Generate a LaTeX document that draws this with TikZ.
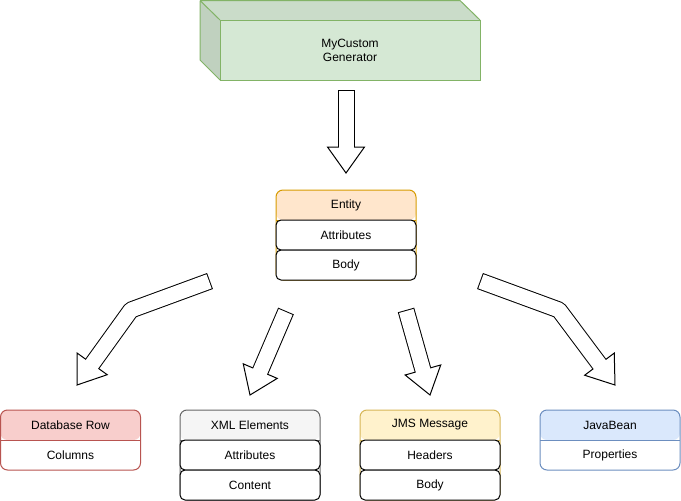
\documentclass[tikz,border=0pt]{standalone}
\usepackage{fontspec}
\setmainfont{Liberation Sans}
\usetikzlibrary{calc}
\definecolor{genfill}{HTML}{D5E8D4}
\definecolor{genline}{HTML}{82B366}
\definecolor{entfill}{HTML}{FFE6CC}
\definecolor{entline}{HTML}{D79B00}
\definecolor{dbfill}{HTML}{F8CECC}
\definecolor{dbline}{HTML}{B85450}
\definecolor{xmlfill}{HTML}{F5F5F5}
\definecolor{xmlline}{HTML}{666666}
\definecolor{jmsfill}{HTML}{FFF2CC}
\definecolor{jmsline}{HTML}{D6B656}
\definecolor{beanfill}{HTML}{DAE8FC}
\definecolor{beanline}{HTML}{6C8EBF}
\newcommand\fatarrow[3]{%
  \coordinate (hb) at ($(#3)!26pt!(#2)$);
  \draw[line width=17, line join=round] #1 -- (hb);
  \filldraw[fill=white, line join=miter] ($(hb)!18.5pt!90:(#3)$) -- (#3) -- ($(hb)!18.5pt!-90:(#3)$) -- cycle;
  \draw[white, line width=15, line join=round, shorten <=1pt] #1 -- ($(hb)!1.5pt!(#3)$);
}

\begin{document}
\begin{tikzpicture}[x=1pt, y=-1pt, line width=1pt, font=\fontsize{12}{14}\selectfont,
    gen/.style={draw=genline, fill=genfill, minimum width=260, minimum height=60, align=center},
    box/.style 2 args={draw=#2, fill=white, rounded corners=7, minimum width=140, inner sep=0,
      path picture={\fill[#1] (path picture bounding box.north west) rectangle ([yshift=-30pt]path picture bounding box.north east);
        \draw[#2] ([yshift=-30pt]path picture bounding box.north west) -- ([yshift=-30pt]path picture bounding box.north east);}},
    row/.style={draw, fill=white, rounded corners=5, minimum width=140, minimum height=30, inner sep=0},
    title/.style={minimum width=140, minimum height=30, inner sep=0}]
    \useasboundingbox (0,0) rectangle (681,501);
    \fill[genfill!95!black] (200,0.5) -- (460,0.5) -- (480,20) -- (220,20) -- cycle;
    \fill[genfill!90!black] (200,0.5) -- (220,20) -- (220,80) -- (200,60) -- cycle;
    \draw[genline] (200,0.5) -- (460,0.5) -- (480,20) (200,0.5) -- (220,20) (200,0.5) -- (200,60) -- (220,80);
    \node[gen] (gen) at (350,50) {MyCustom\\ Generator};
    \node[box={entfill}{entline}, minimum height=90] (entity) at (346,235) {};
    \node[title] (entityhd) at (346,205) {Entity};
    \node[row] (entityattr) at (346,235) {Attributes};
    \node[row] (entitybody) at (346,265) {Body};
    \node[box={dbfill}{dbline}, minimum height=60] (db) at (70.5,440) {};
    \node[title] (dbhd) at (70.5,425) {Database Row};
    \node[title] (dbcols) at (70.5,455) {Columns};
    \node[box={xmlfill}{xmlline}, minimum height=90] (xml) at (250,455) {};
    \node[title] (xmlhd) at (250,425) {XML Elements};
    \node[row] (xmlattr) at (250,455) {Attributes};
    \node[row] (xmlcont) at (250,485) {Content};
    \node[box={jmsfill}{jmsline}, minimum height=90] (jms) at (430,455) {};
    \node[title] (jmshd) at (430,425) {JMS Message};
    \node[row] (jmshead) at (430,455) {Headers};
    \node[row] (jmsbody) at (430,485) {Body};
    \node[box={beanfill}{beanline}, minimum height=60] (bean) at (610,440) {};
    \node[title] (beanhd) at (610,425) {JavaBean};
    \node[title] (beanprop) at (610,455) {Properties};
    \coordinate (gtail) at (346,90);
    \coordinate (gtip) at (346,173);
    \coordinate (dbtail) at (210,281);
    \coordinate (dbbend) at (131,310);
    \coordinate (dbtip) at (77,385);
    \coordinate (xmltail) at (286,311);
    \coordinate (xmltip) at (250,395);
    \coordinate (jmstail) at (406,310);
    \coordinate (jmstip) at (430,395);
    \coordinate (beantail) at (480,281);
    \coordinate (beanbend) at (559,310);
    \coordinate (beantip) at (615,385);
    \fatarrow{(gtail)}{gtail}{gtip}
    \fatarrow{(dbtail) -- (dbbend)}{dbbend}{dbtip}
    \fatarrow{(xmltail)}{xmltail}{xmltip}
    \fatarrow{(jmstail)}{jmstail}{jmstip}
    \fatarrow{(beantail) -- (beanbend)}{beanbend}{beantip}
\end{tikzpicture}
\end{document}
